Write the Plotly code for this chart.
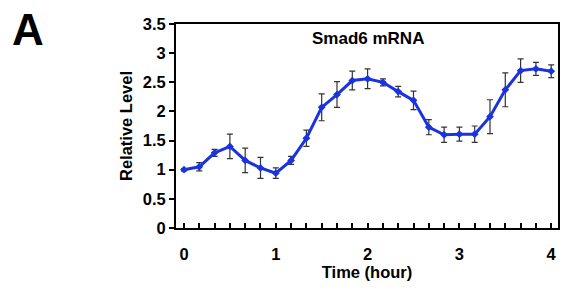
import plotly.graph_objects as go

time_hours = [i / 6 for i in range(25)]
smad6_level = [1.00, 1.05, 1.29, 1.40, 1.16, 1.03, 0.94, 1.16, 1.54, 2.07, 2.29, 2.53, 2.56,
               2.50, 2.34, 2.19, 1.73, 1.60, 1.61, 1.61, 1.91, 2.37, 2.70, 2.73, 2.69]
smad6_err = [0.02, 0.07, 0.06, 0.21, 0.21, 0.18, 0.09, 0.07, 0.14, 0.23, 0.22, 0.16, 0.17,
             0.06, 0.09, 0.16, 0.13, 0.13, 0.12, 0.14, 0.29, 0.29, 0.20, 0.11, 0.11]
y_ticks = [0, 0.5, 1, 1.5, 2, 2.5, 3, 3.5]
y_ticktext = ["0", "0.5", "1", "1.5", "2", "2.5", "3", "3.5"]
x_tickvals = [0, 1, 2, 3, 4]
x_ticktext = ["0", "1", "2", "3", "4"]

FONT = "Liberation Sans, Arial, Helvetica, sans-serif"

fig = go.Figure()
fig.add_trace(go.Scatter(
    x=time_hours, y=smad6_level,
    mode="lines+markers",
    line=dict(color="#1a32e0", width=3),
    marker=dict(symbol="diamond", size=6, color="#1a32e0"),
    error_y=dict(type="data", array=smad6_err, visible=True,
                 color="#333333", thickness=1.2, width=3),
    showlegend=False,
))

fig.update_layout(
    width=562, height=291,
    margin=dict(l=176, r=2, t=24, b=63),
    paper_bgcolor="white", plot_bgcolor="white",
    font=dict(family=FONT, color="black"),
    xaxis=dict(
        range=[-0.087, 4.074],
        tickvals=x_tickvals, ticktext=x_ticktext,
        ticks="", showgrid=False, zeroline=False,
        showline=True, linecolor="black", linewidth=2, mirror=True,
        tickfont=dict(size=16.5, weight="bold", family=FONT),
        ticklabelstandoff=10,
        title=dict(text="Time (hour)", font=dict(size=16.5, weight="bold", family=FONT), standoff=2),
        minor=dict(tickvals=time_hours, ticks="inside", ticklen=5, tickcolor="black", tickwidth=1.5),
    ),
    yaxis=dict(
        range=[0, 3.5],
        tickvals=y_ticks, ticktext=y_ticktext,
        ticks="outside", ticklen=5, tickwidth=1.5, tickcolor="black",
        showgrid=False, zeroline=False,
        showline=True, linecolor="black", linewidth=2, mirror=True,
        tickfont=dict(size=16.5, weight="bold", family=FONT),
        title=dict(text="Relative Level", font=dict(size=16.5, weight="bold", family=FONT), standoff=6),
    ),
    annotations=[
        dict(text="Smad6 mRNA", x=2, y=0.931, xref="x", yref="paper",
             xanchor="center", yanchor="middle",
             showarrow=False, font=dict(size=17, weight="bold", family=FONT)),
        dict(text="A", x=-0.388, y=0.975, xref="paper", yref="paper",
             xanchor="center", yanchor="middle",
             showarrow=False, font=dict(size=44, weight="bold", family=FONT)),
    ],
)

fig.write_html("out.html", config={"displayModeBar": False},
               post_script="document.body.style.margin='0';")
